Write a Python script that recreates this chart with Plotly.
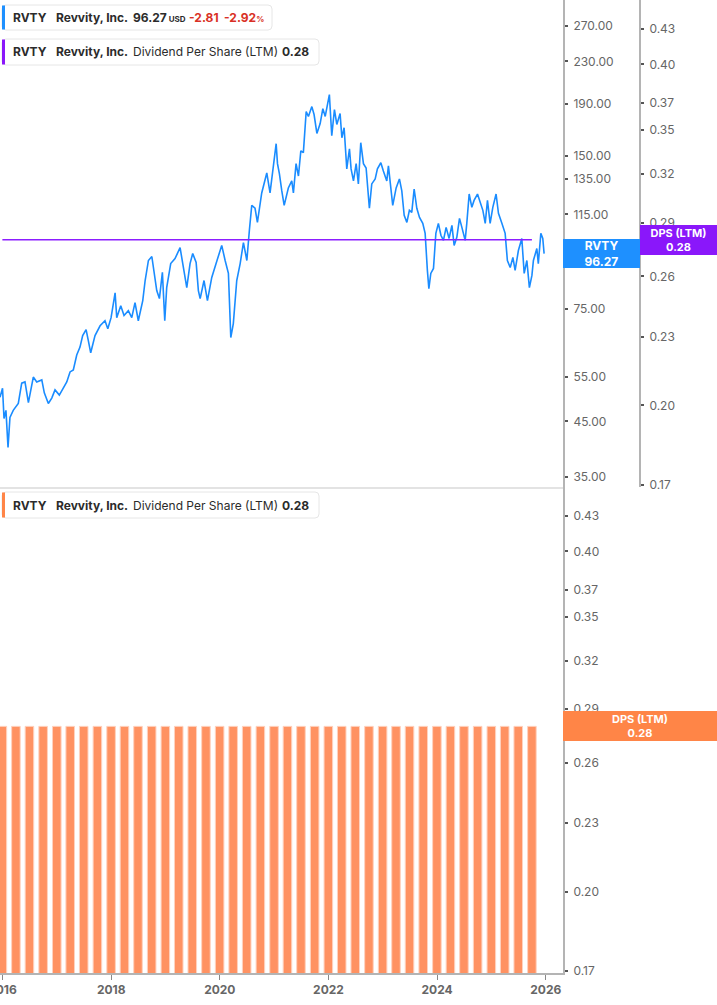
import math
import plotly.graph_objects as go

# ---------------- data ----------------
price_dates = [
    "2015-12-15", "2016-01-01", "2016-01-11", "2016-01-24", "2016-02-07", "2016-02-20", "2016-03-13",
    "2016-04-16", "2016-05-09", "2016-05-31", "2016-06-23", "2016-07-26", "2016-08-18", "2016-09-21",
    "2016-10-08", "2016-11-04", "2016-11-27", "2016-12-19", "2017-01-17", "2017-02-13", "2017-03-08",
    "2017-03-30", "2017-04-21", "2017-05-14", "2017-06-05", "2017-06-23", "2017-07-16", "2017-07-31",
    "2017-08-16", "2017-09-14", "2017-10-18", "2017-11-20", "2017-12-09", "2017-12-31", "2018-01-27",
    "2018-02-07", "2018-03-06", "2018-03-28", "2018-04-26", "2018-05-19", "2018-06-10", "2018-07-02",
    "2018-08-01", "2018-08-17", "2018-09-08", "2018-10-01", "2018-10-16", "2018-11-03", "2018-11-21",
    "2018-12-11", "2018-12-27", "2019-01-09", "2019-02-05", "2019-03-06", "2019-04-09", "2019-04-27",
    "2019-05-24", "2019-06-15", "2019-07-03", "2019-07-26", "2019-08-10", "2019-08-22", "2019-09-17",
    "2019-10-10", "2019-11-08", "2019-12-07", "2020-01-14", "2020-02-06", "2020-02-28", "2020-03-15",
    "2020-04-01", "2020-04-24", "2020-05-17", "2020-06-08", "2020-07-01", "2020-07-18", "2020-08-03",
    "2020-08-25", "2020-09-10", "2020-10-09", "2020-11-12", "2020-12-04", "2020-12-27", "2021-01-14",
    "2021-01-23", "2021-02-05", "2021-02-21", "2021-03-09", "2021-04-06", "2021-04-29", "2021-05-10",
    "2021-05-28", "2021-06-13", "2021-06-29", "2021-07-16", "2021-08-04", "2021-08-19", "2021-09-11",
    "2021-09-26", "2021-10-15", "2021-11-06", "2021-11-24", "2021-12-10", "2021-12-25", "2022-01-07",
    "2022-01-23", "2022-02-10", "2022-02-26", "2022-03-20", "2022-04-01", "2022-04-16", "2022-05-04",
    "2022-05-22", "2022-06-02", "2022-06-18", "2022-07-06", "2022-07-21", "2022-08-06", "2022-08-24",
    "2022-09-11", "2022-10-03", "2022-10-19", "2022-11-11", "2022-11-26", "2022-12-19", "2023-01-05",
    "2023-01-28", "2023-02-08", "2023-03-09", "2023-04-01", "2023-04-23", "2023-05-09", "2023-05-25",
    "2023-06-12", "2023-06-29", "2023-07-15", "2023-07-31", "2023-08-18", "2023-09-05", "2023-09-27",
    "2023-10-13", "2023-10-28", "2023-11-07", "2023-11-20", "2023-12-08", "2023-12-24", "2024-01-10",
    "2024-01-27", "2024-02-13", "2024-03-02", "2024-03-22", "2024-04-10", "2024-04-25", "2024-05-13",
    "2024-05-31", "2024-06-16", "2024-07-08", "2024-07-19", "2024-08-04", "2024-08-22", "2024-09-06",
    "2024-09-29", "2024-10-17", "2024-11-04", "2024-11-20", "2024-12-05", "2024-12-23", "2025-01-10",
    "2025-02-01", "2025-02-17", "2025-03-12", "2025-04-03", "2025-04-18", "2025-05-07", "2025-05-25",
    "2025-06-09", "2025-07-01", "2025-07-24", "2025-08-09", "2025-08-27", "2025-09-13", "2025-09-30",
    "2025-10-10", "2025-11-02", "2025-11-12", "2025-11-29", "2025-12-12", "2025-12-21",
]
price_values = [
    50.2, 52.3, 45.6, 47.3, 40.0, 45.8, 47.3,
    48.8, 53.5, 53.8, 49.0, 55.0, 53.8, 54.3,
    51.2, 48.8, 50.0, 51.9, 50.7, 52.3, 53.8,
    56.3, 56.8, 60.8, 63.0, 66.4, 68.2, 64.9,
    61.4, 66.4, 69.4, 71.0, 68.5, 72.0, 80.6,
    72.0, 76.0, 72.7, 74.3, 72.0, 77.1, 71.0,
    77.8, 85.2, 93.3, 95.0, 88.0, 81.4, 78.5,
    88.4, 71.0, 82.5, 92.0, 94.1, 98.9, 92.0,
    82.5, 92.0, 96.3, 92.5, 81.4, 78.5, 85.2,
    77.8, 86.4, 92.0, 99.9, 93.3, 88.0, 65.8,
    70.1, 85.2, 92.0, 101.2, 93.3, 107.0, 119.8,
    118.2, 110.9, 126.7, 138.7, 126.7, 141.9, 158.4,
    144.7, 138.1, 127.9, 119.8, 129.6, 133.8, 126.7,
    144.7, 136.8, 153.4, 152.1, 183.3, 179.2, 187.4,
    180.8, 165.9, 173.5, 185.7, 179.2, 189.1, 197.9,
    164.2, 184.9, 172.8, 181.6, 162.7, 170.3, 141.3,
    154.8, 141.3, 133.8, 144.7, 132.0, 159.1, 144.7,
    141.9, 118.2, 132.0, 135.0, 141.3, 145.3, 140.0,
    133.8, 143.2, 119.8, 129.6, 135.0, 127.9, 114.5,
    110.9, 117.1, 116.0, 129.0, 118.2, 113.4, 110.4,
    105.5, 89.2, 82.1, 88.0, 90.0, 105.5, 110.4,
    104.6, 102.2, 108.4, 103.1, 109.4, 99.9, 103.6,
    112.9, 108.4, 102.2, 110.4, 126.1, 118.7, 122.5,
    126.1, 120.9, 117.1, 110.4, 122.5, 110.4, 118.7,
    126.1, 115.5, 110.4, 105.5, 93.3, 90.4, 94.6,
    89.2, 97.6, 103.1, 88.0, 93.3, 82.5, 87.2,
    93.3, 98.5, 92.0, 105.5, 103.1, 96.27,
]

div_dates = [
    "2015-12-31", "2016-03-31", "2016-06-30", "2016-09-30",
    "2016-12-31", "2017-03-31", "2017-06-30", "2017-09-30",
    "2017-12-31", "2018-03-31", "2018-06-30", "2018-09-30",
    "2018-12-31", "2019-03-31", "2019-06-30", "2019-09-30",
    "2019-12-31", "2020-03-31", "2020-06-30", "2020-09-30",
    "2020-12-31", "2021-03-31", "2021-06-30", "2021-09-30",
    "2021-12-31", "2022-03-31", "2022-06-30", "2022-09-30",
    "2022-12-31", "2023-03-31", "2023-06-30", "2023-09-30",
    "2023-12-31", "2024-03-31", "2024-06-30", "2024-09-30",
    "2024-12-31", "2025-03-31", "2025-06-30", "2025-09-30",
]
dps_ltm = [
    0.28, 0.28, 0.28, 0.28, 0.28, 0.28, 0.28, 0.28, 0.28, 0.28,
    0.28, 0.28, 0.28, 0.28, 0.28, 0.28, 0.28, 0.28, 0.28, 0.28,
    0.28, 0.28, 0.28, 0.28, 0.28, 0.28, 0.28, 0.28, 0.28, 0.28,
    0.28, 0.28, 0.28, 0.28, 0.28, 0.28, 0.28, 0.28, 0.28, 0.28,
]

price_ticks = [35, 45, 55, 75, 95, 115, 135, 150, 190, 230, 270]
dps_ticks = [0.17, 0.20, 0.23, 0.26, 0.29, 0.32, 0.35, 0.37, 0.40, 0.43]

last_price = 96.27
change = -2.81
change_pct = -2.92
last_dps = 0.28

# ---------------- styling ----------------
W, H = 717, 1005
FONT = "Inter"
BLUE = "#1E90FF"
PURPLE = "#8A17FA"
ORANGE = "#FF8547"
RED = "#D93025"
TXT = "#2b2b2b"
TICK = "#666666"
AXLINE = "#b4b4b4"

XR = 563 / W          # right edge of plotting area
TOP = [1 - 487 / H, 1.0]
BOT = [1 - 973 / H, 1 - 487 / H]


def px(x):
    return x / W


def py(y):
    return 1 - y / H


def rrect(x0, y0, x1, y1, r=4):
    rx, ry = r / W, r / H
    X0, X1 = px(x0), px(x1)
    Y0, Y1 = py(y0), py(y1)  # Y0 top, Y1 bottom
    return (f"M{X0+rx},{Y0} L{X1-rx},{Y0} Q{X1},{Y0} {X1},{Y0-ry} "
            f"L{X1},{Y1+ry} Q{X1},{Y1} {X1-rx},{Y1} L{X0+rx},{Y1} "
            f"Q{X0},{Y1} {X0},{Y1+ry} L{X0},{Y0-ry} Q{X0},{Y0} {X0+rx},{Y0} Z")


fig = go.Figure()

fig.add_trace(go.Bar(
    x=div_dates, y=dps_ltm, xaxis="x2", yaxis="y3",
    marker=dict(color="#FF9262", line=dict(color="#FFD2BF", width=1)),
    hoverinfo="skip", showlegend=False,
))
fig.add_trace(go.Scatter(
    x=div_dates, y=dps_ltm, xaxis="x", yaxis="y2", mode="lines",
    line=dict(color="#8C1EFF", width=1.5), hoverinfo="skip", showlegend=False,
))
fig.add_trace(go.Scatter(
    x=price_dates, y=price_values, xaxis="x", yaxis="y", mode="lines",
    line=dict(color="#1A8CFF", width=1.6), hoverinfo="skip", showlegend=False,
))

xrange = ["2015-12-15", "2026-04-27"]
price_range = [math.log10(33.42), math.log10(303.8)]
dps_range = [math.log10(0.1694), math.log10(0.4560)]

tickfont = dict(family=FONT, size=12, color=TICK)


def yax(**kw):
    d = dict(
        showgrid=False, zeroline=False, automargin=False, side="right", type="log",
        ticks="outside", ticklen=3, tickwidth=2, tickcolor="#555555",
        showline=True, linecolor=AXLINE, linewidth=2,
        tickfont=tickfont, ticklabelstandoff=3,
    )
    d.update(kw)
    return d


fig.update_layout(
    width=W, height=H,
    margin=dict(l=0, r=0, t=0, b=0, pad=0, autoexpand=False),
    paper_bgcolor="white", plot_bgcolor="white",
    showlegend=False,
    bargap=0.36,
    font=dict(family=FONT),
    xaxis=dict(
        domain=[0, XR], anchor="y", type="date", range=xrange, automargin=False,
        showgrid=False, zeroline=False, showticklabels=False, ticks="",
        showline=True, linecolor="#e3e3e3", linewidth=2,
    ),
    xaxis2=dict(
        domain=[0, XR], anchor="y3", type="date", range=xrange, matches="x",
        automargin=False, showgrid=False, zeroline=False,
        tick0="2016-01-01", dtick="M24", tickformat="%Y",
        ticks="outside", ticklen=5, tickwidth=1, tickcolor="#888888",
        showline=True, linecolor=AXLINE, linewidth=2,
        tickfont=dict(family=FONT, size=12, color=TICK, weight="bold"),
        ticklabeloverflow="allow",
    ),
    yaxis=yax(domain=TOP, anchor="x", range=price_range,
              tickvals=price_ticks, ticktext=[f"{v:.2f}" for v in price_ticks]),
    yaxis2=yax(domain=TOP, overlaying="y", anchor="free", position=640 / W,
               range=dps_range, tickvals=dps_ticks,
               ticktext=[f"{v:.2f}" for v in dps_ticks]),
    yaxis3=yax(domain=BOT, anchor="x2", range=dps_range, tickvals=dps_ticks,
               ticktext=[f"{v:.2f}" for v in dps_ticks]),
)

shapes = []
# legend boxes
for (x0, y0, x1, y1, col) in [(2, 5, 272, 30, BLUE), (2, 39, 319, 65, PURPLE),
                              (2, 492, 319, 518, ORANGE)]:
    shapes.append(dict(type="path", xref="paper", yref="paper", path=rrect(x0, y0, x1, y1),
                       line=dict(color="#e6e6e6", width=1), fillcolor="white", layer="above"))
    shapes.append(dict(type="rect", xref="paper", yref="paper",
                       x0=px(x0), x1=px(x0 + 3), y0=py(y1 - 0.5), y1=py(y0 + 0.5),
                       line=dict(width=0), fillcolor=col, layer="above"))
fig.update_layout(shapes=shapes)

ann = []


def seg(x, y, text, size=12, color=TXT, bold=True):
    t = f"<b>{text}</b>" if bold else text
    ann.append(dict(xref="paper", yref="paper", x=px(x), y=py(y), xanchor="left",
                    yanchor="middle", text=t, showarrow=False, borderpad=0,
                    font=dict(family=FONT, size=size, color=color)))


# box 1
seg(12, 17.5, "RVTY")
seg(55, 17.5, "Revvity, Inc.")
seg(132, 17.5, f"{last_price:.2f}<span style='font-size:8px'> USD</span>")
seg(188, 17.5, f"{change:.2f}", color=RED)
seg(223, 17.5, f"{change_pct:.2f}<span style='font-size:8px'>%</span>", color=RED)
# box 2
seg(12, 52, "RVTY")
seg(55, 52, "Revvity, Inc.")
seg(132, 52, "Dividend Per Share (LTM)", bold=False)
seg(281, 52, f"{last_dps:.2f}")
# box 3
seg(12, 505, "RVTY")
seg(55, 505, "Revvity, Inc.")
seg(132, 505, "Dividend Per Share (LTM)", bold=False)
seg(281, 505, f"{last_dps:.2f}")

# right-side value labels
ann.append(dict(xref="paper", yref="y", x=XR, y=math.log10(last_price), xanchor="left",
                yanchor="middle", text=f"<b>RVTY</b><br><b>{last_price:.2f}</b>",
                showarrow=False, bgcolor=BLUE, width=77, height=29, borderpad=0,
                borderwidth=0, font=dict(family=FONT, size=12, color="white")))
ann.append(dict(xref="paper", yref="y2", x=640 / W, y=math.log10(last_dps), xanchor="left",
                yanchor="middle", text=f"<b>DPS (LTM)</b><br><b>{last_dps:.2f}</b>",
                showarrow=False, bgcolor=PURPLE, width=77, height=30, borderpad=0,
                borderwidth=0, font=dict(family=FONT, size=11, color="white")))
ann.append(dict(xref="paper", yref="y3", x=XR, y=math.log10(last_dps), xanchor="left",
                yanchor="middle", text=f"<b>DPS (LTM)</b><br><b>{last_dps:.2f}</b>",
                showarrow=False, bgcolor=ORANGE, width=154, height=30, borderpad=0,
                borderwidth=0, font=dict(family=FONT, size=11, color="white")))
fig.update_layout(annotations=ann)

fig.write_html(
    "out.html",
    config={"displayModeBar": False},
    post_script="document.body.style.margin='0';document.body.style.padding='0';",
)
